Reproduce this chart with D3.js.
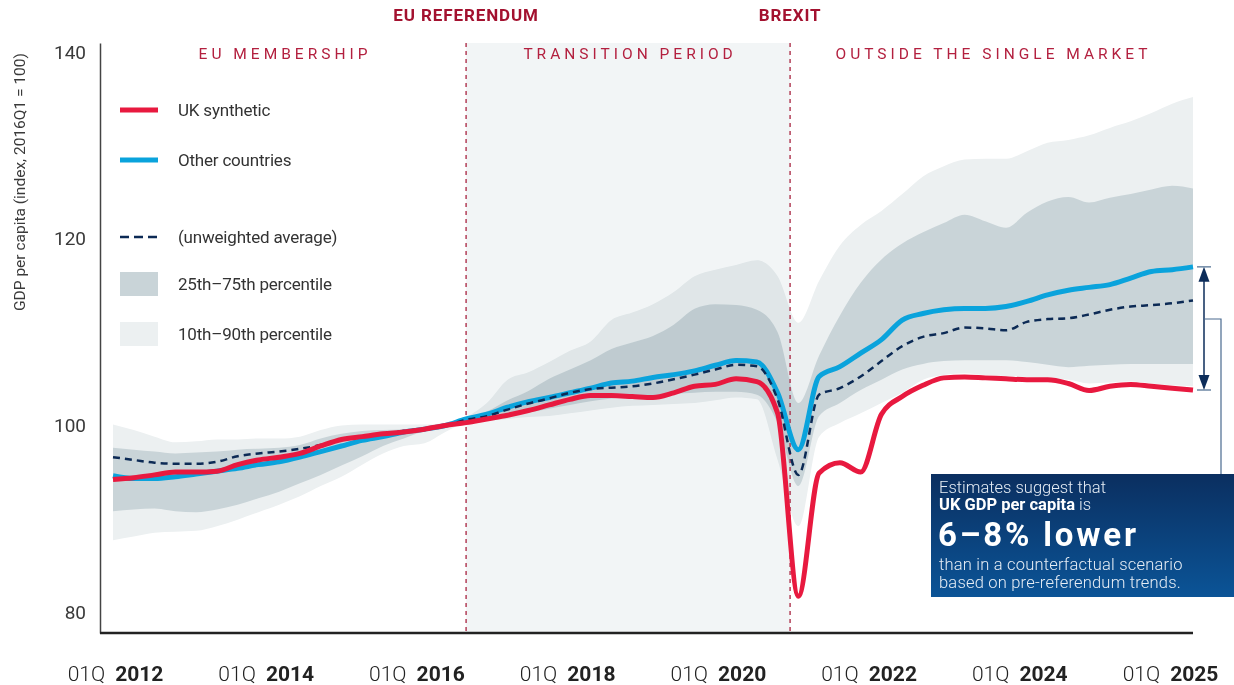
<!DOCTYPE html>
<html lang="en">
<head>
<meta charset="UTF-8">
<title>UK GDP per capita vs other countries</title>
<script src="https://d3js.org/d3.v7.min.js"></script>
<style>
  body { margin: 0; background: #fff; }
  svg { display: block; font-family: Roboto, "Open Sans", sans-serif; }
</style>
</head>
<body>
<svg></svg>
<script>
    var width = 1234;
    var height = 685;

    // quarterly data, 2012Q1 .. 2025Q1
    var startYear = 2012;
    var ukSynthetic = [94.2, 94.4, 94.7, 95.0, 95.0, 95.1, 95.8, 96.3, 96.6, 97.0, 97.8, 98.5, 98.8, 99.1, 99.3, 99.6,
        100.0, 100.3, 100.7, 101.1, 101.6, 102.2, 102.8, 103.2, 103.2, 103.1, 103.0, 103.5, 104.2, 104.4, 105.0, 104.7,
        101.3, 81.7, 94.9, 96.0, 95.0, 101.2, 103.1, 104.3, 105.1, 105.2, 105.1, 105.0, 104.9, 104.9, 104.5, 103.75,
        104.2, 104.4, 104.2, 104.0, 103.8];
    var otherCountries = [94.6, 94.3, 94.3, 94.5, 94.8, 95.1, 95.4, 95.8, 96.1, 96.6, 97.2, 97.8, 98.4, 98.8, 99.3, 99.6,
        100.0, 100.7, 101.2, 101.95, 102.55, 103.0, 103.5, 104.0, 104.55, 104.75, 105.15, 105.45, 105.85, 106.45, 106.95, 106.8,
        103.5, 97.4, 105.25, 106.3, 107.75, 109.2, 111.3, 112.0, 112.4, 112.55, 112.55, 112.75, 113.3, 114.0, 114.5, 114.8,
        115.1, 115.8, 116.5, 116.7, 117.0];
    var unweightedAvg = [96.6, 96.3, 96.0, 95.9, 95.9, 96.1, 96.7, 97.0, 97.2, 97.5, 97.9, 98.5, 98.8, 99.1, 99.4, 99.65,
        100.0, 100.6, 101.0, 101.7, 102.35, 102.9, 103.5, 103.9, 104.05, 104.2, 104.5, 104.95, 105.45, 106.0, 106.5, 106.35,
        102.8, 94.7, 103.3, 104.0, 105.25, 106.9, 108.5, 109.5, 109.9, 110.5, 110.4, 110.2, 111.1, 111.4, 111.5, 111.9,
        112.4, 112.75, 112.9, 113.1, 113.4];
    var p10 = [87.7, 88.1, 88.5, 88.6, 88.7, 89.2, 89.9, 90.7, 91.5, 92.4, 93.5, 94.5, 95.8, 97.0, 97.8, 98.1,
        99.3, 100.3, 100.5, 100.7, 100.9, 101.0, 101.3, 101.6, 101.9, 102.1, 102.2, 102.3, 102.4, 102.7, 103.0, 102.8,
        96.3, 89.2, 98.8, 100.25, 101.3, 102.4, 103.5, 104.9, 105.4, 105.6, 105.4, 105.3, 105.2, 105.0, 104.9, 104.5,
        104.6, 104.7, 104.5, 104.3, 104.2];
    var p25 = [90.8, 91.0, 91.1, 90.8, 90.7, 91.0, 91.5, 92.2, 92.9, 93.8, 94.7, 95.7, 96.7, 97.8, 98.6, 99.4,
        100.0, 100.5, 100.8, 101.1, 101.4, 101.8, 102.2, 102.6, 102.9, 103.1, 103.2, 103.4, 103.5, 103.6, 103.6, 103.3,
        100.3, 93.5, 101.0, 102.4, 103.8, 104.9, 106.0, 106.6, 106.9, 107.0, 107.0, 107.0, 106.8, 106.5, 106.25, 106.4,
        106.5, 106.6, 106.6, 106.6, 106.6];
    var p75 = [97.6, 97.4, 97.2, 97.0, 97.1, 97.2, 97.4, 97.5, 97.6, 97.9, 98.6, 99.1, 99.4, 99.5, 99.6, 99.9,
        100.2, 100.8, 101.5, 102.7, 103.7, 105.0, 106.0, 107.0, 108.2, 108.9, 109.6, 110.8, 112.5, 113.0, 112.9, 112.4,
        110.0, 102.4, 107.5, 111.8, 115.3, 117.8, 119.5, 120.7, 121.7, 122.6, 121.9, 121.2, 122.8, 124.0, 124.5, 123.9,
        124.4, 124.8, 125.3, 125.7, 125.4];
    var p90 = [100.1, 99.5, 98.8, 98.2, 98.3, 98.5, 98.5, 98.6, 98.6, 98.8, 99.5, 100.0, 100.1, 100.1, 100.1, 100.1,
        100.3, 100.9, 102.4, 104.9, 105.7, 106.8, 108.0, 109.0, 111.3, 112.1, 113.0, 114.3, 116.0, 116.7, 117.2, 117.7,
        116.0, 111.0, 115.5, 119.3, 121.5, 123.0, 124.8, 126.7, 127.8, 128.5, 128.6, 128.6, 129.4, 130.3, 130.6, 131.1,
        131.9, 132.6, 133.5, 134.5, 135.2];

    var events = [{ label: 'EU REFERENDUM', at: 2016.25 }, { label: 'BREXIT', at: 2020.15 }];
    var periods = ['EU MEMBERSHIP', 'TRANSITION PERIOD', 'OUTSIDE THE SINGLE MARKET'];
    var tickYears = ['2012', '2014', '2016', '2018', '2020', '2022', '2024', '2025'];
    var yTicks = [80, 100, 120, 140];

    var red = '#e8193f', blue = '#0aa3dc', navy = '#0c2a55';
    var darkBand = '#c9d4d8', lightBand = '#ecf0f1';

    var svg = d3.select('svg').attr('width', width).attr('height', height);

    var plotTop = 43, plotBottom = 633, plotLeft = 100;
    var data = ukSynthetic.map(function (v, i) {
        return { t: startYear + i / 4, uk: v, other: otherCountries[i], avg: unweightedAvg[i],
                 p10: p10[i], p25: p25[i], p75: p75[i], p90: p90[i] };
    });

    var x = d3.scaleLinear().domain([startYear, data[data.length - 1].t]).range([113, 1193]);
    var y = d3.scaleLinear().domain([77.75, 141]).range([plotBottom, plotTop]);

    var defs = svg.append('defs');
    var grad = defs.append('linearGradient').attr('id', 'boxGrad')
        .attr('x1', 0).attr('y1', 0).attr('x2', 0).attr('y2', 1);
    grad.append('stop').attr('offset', '0%').attr('stop-color', '#0b2f60');
    grad.append('stop').attr('offset', '100%').attr('stop-color', '#0b5497');

    // bands
    var area = function (lo, hi) {
        return d3.area().x(function (d) { return x(d.t); })
            .y0(function (d) { return y(d[lo]); })
            .y1(function (d) { return y(d[hi]); })
            .curve(d3.curveMonotoneX);
    };
    svg.append('path').datum(data).attr('d', area('p10', 'p90')).attr('fill', lightBand);
    svg.append('path').datum(data).attr('d', area('p25', 'p75')).attr('fill', darkBand);

    // transition period shading
    var xRef = x(events[0].at), xBrexit = x(events[1].at);
    svg.append('rect')
        .attr('x', xRef).attr('y', plotTop)
        .attr('width', xBrexit - xRef).attr('height', plotBottom - plotTop)
        .attr('fill', '#f2f5f6')
        .style('mix-blend-mode', 'multiply');

    // event lines + labels
    events.forEach(function (e) {
        svg.append('line')
            .attr('x1', x(e.at)).attr('x2', x(e.at))
            .attr('y1', plotTop).attr('y2', plotBottom)
            .attr('stroke', '#a8233f').attr('stroke-width', 1.3)
            .attr('stroke-dasharray', '4,4');
        svg.append('text')
            .attr('x', x(e.at)).attr('y', 21)
            .attr('text-anchor', 'middle')
            .attr('font-size', 17).attr('font-weight', 700)
            .attr('letter-spacing', 0.9)
            .attr('fill', '#a3112f')
            .text(e.label);
    });

    // period labels
    var bounds = [plotLeft, xRef, xBrexit, x.range()[1]];
    periods.forEach(function (p, i) {
        svg.append('text')
            .attr('x', (bounds[i] + bounds[i + 1]) / 2 + 2)
            .attr('y', 59)
            .attr('text-anchor', 'middle')
            .attr('font-size', 15.5)
            .attr('letter-spacing', 4)
            .attr('fill', '#b3203f')
            .text(p);
    });

    // lines
    var line = function (key) {
        return d3.line().x(function (d) { return x(d.t); })
            .y(function (d) { return y(d[key]); })
            .curve(d3.curveMonotoneX);
    };
    svg.append('path').datum(data).attr('d', line('other'))
        .attr('fill', 'none').attr('stroke', blue).attr('stroke-width', 5).attr('stroke-linejoin', 'round');
    svg.append('path').datum(data).attr('d', line('avg'))
        .attr('fill', 'none').attr('stroke', navy).attr('stroke-width', 2.5).attr('stroke-dasharray', '7,5');
    svg.append('path').datum(data).attr('d', line('uk'))
        .attr('fill', 'none').attr('stroke', red).attr('stroke-width', 5).attr('stroke-linejoin', 'round');

    // y axis
    var yAxis = svg.append('g').attr('transform', 'translate(' + plotLeft + ',0)')
        .call(d3.axisLeft(y).tickValues(yTicks).tickSize(0).tickSizeOuter(0).tickPadding(14));
    yAxis.select('.domain').attr('stroke', '#444').attr('stroke-width', 1.5);
    yAxis.selectAll('text').attr('font-size', 19).attr('fill', '#3a3a3a')
        .attr('font-family', 'Roboto, sans-serif');

    svg.append('text')
        .attr('transform', 'translate(25,' + 182 + ') rotate(-90)')
        .attr('text-anchor', 'middle')
        .attr('font-size', 15.5).attr('fill', '#3a3a3a')
        .text('GDP per capita (index, 2016Q1 = 100)');

    // x axis
    svg.append('line')
        .attr('x1', plotLeft).attr('x2', x.range()[1])
        .attr('y1', plotBottom).attr('y2', plotBottom)
        .attr('stroke', '#222').attr('stroke-width', 2.5);

    var tickScale = d3.scalePoint().domain(tickYears).range([115, 1170]);
    var xAxis = svg.append('g').attr('transform', 'translate(0,' + 666 + ')')
        .call(d3.axisBottom(tickScale).tickSize(0).tickPadding(0));
    xAxis.select('.domain').remove();
    xAxis.selectAll('.tick text').each(function (d) {
        var t = d3.select(this).text(null)
            .attr('font-size', 21).attr('fill', '#222').attr('font-family', 'Roboto, sans-serif');
        t.append('tspan').attr('font-weight', 300).text('01Q');
        t.append('tspan').attr('font-weight', 700).attr('dx', 10).text(d);
    });

    // legend
    var legend = svg.append('g');
    var lx = 120, lw = 38, tx = 178;
    var legItems = [
        { y: 110, type: 'line', color: red, label: 'UK synthetic' },
        { y: 160, type: 'line', color: blue, label: 'Other countries' },
        { y: 237, type: 'dash', color: navy, label: '(unweighted average)' },
        { y: 284, type: 'box', color: darkBand, label: '25th\u201375th percentile' },
        { y: 334, type: 'box', color: lightBand, label: '10th\u201390th percentile' }
    ];
    legItems.forEach(function (it) {
        if (it.type === 'box') {
            legend.append('rect').attr('x', lx).attr('y', it.y - 12)
                .attr('width', lw).attr('height', 24).attr('fill', it.color);
        } else {
            legend.append('line').attr('x1', lx).attr('x2', lx + lw)
                .attr('y1', it.y).attr('y2', it.y)
                .attr('stroke', it.color)
                .attr('stroke-width', it.type === 'dash' ? 2.5 : 5)
                .attr('stroke-dasharray', it.type === 'dash' ? '9,5' : null);
        }
        legend.append('text').attr('x', tx).attr('y', it.y)
            .attr('dominant-baseline', 'central')
            .attr('font-size', 17).attr('fill', '#333')
            .attr('letter-spacing', -0.2)
            .text(it.label);
    });

    // gap arrow between end values
    var last = data[data.length - 1];
    var ax = 1204, yTop = y(last.other), yBot = y(last.uk);
    svg.append('line').attr('x1', ax).attr('x2', ax).attr('y1', yTop + 6).attr('y2', yBot - 6)
        .attr('stroke', '#0d2d5a').attr('stroke-width', 1.5);
    svg.append('path').attr('d', 'M' + ax + ',' + yTop + 'l-5.5,15h11z').attr('fill', '#0d2d5a');
    svg.append('path').attr('d', 'M' + ax + ',' + yBot + 'l-5.5,-15h11z').attr('fill', '#0d2d5a');
    [yTop, yBot].forEach(function (yy) {
        svg.append('line').attr('x1', ax - 7).attr('x2', ax + 7).attr('y1', yy).attr('y2', yy)
            .attr('stroke', '#4a6a8f').attr('stroke-width', 1.2);
    });
    svg.append('path')
        .attr('d', 'M' + ax + ',319H1221V474')
        .attr('fill', 'none').attr('stroke', '#4a6a8f').attr('stroke-width', 1.2);

    // annotation box
    var bx = 931, by = 474;
    svg.append('rect').attr('x', bx).attr('y', by).attr('width', width - bx).attr('height', 123)
        .attr('fill', 'url(#boxGrad)');
    var note = svg.append('g').attr('fill', '#e6edf5').attr('font-size', 16.5);
    note.append('text').attr('x', 939).attr('y', 493).attr('font-weight', 300).text('Estimates suggest that');
    var l2 = note.append('text').attr('x', 939).attr('y', 510);
    l2.append('tspan').attr('font-weight', 700).attr('fill', '#fff').text('UK GDP per capita');
    l2.append('tspan').attr('font-weight', 300).text(' is');
    note.append('text').attr('x', 938).attr('y', 546).attr('font-size', 33).attr('font-weight', 700)
        .attr('letter-spacing', 2.8)
        .attr('fill', '#fff').text('6\u20138% lower');
    note.append('text').attr('x', 939).attr('y', 570).attr('font-weight', 300)
        .attr('letter-spacing', 0.2).text('than in a counterfactual scenario');
    note.append('text').attr('x', 939).attr('y', 588).attr('font-weight', 300)
        .attr('letter-spacing', 0.2).text('based on pre-referendum trends.');
</script>
</body>
</html>
